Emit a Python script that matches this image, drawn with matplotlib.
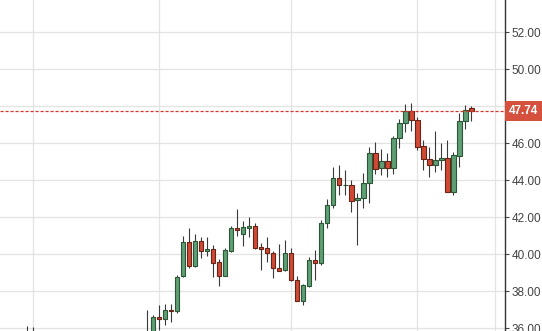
import numpy as np
import matplotlib
matplotlib.use("Agg")
import matplotlib.pyplot as plt
import matplotlib.transforms as mtransforms

plt.rcParams['font.family'] = ['Liberation Sans', 'DejaVu Sans']

# ---- daily candles (first ones sit below the visible window) ----
opens = [35.6, 35.2, 35.5, 35.1, 34.7, 35.0, 34.4, 34.6, 34.3, 33.9,
         34.3, 34.6, 34.2, 34.4, 34.9, 34.5, 34.8, 35.2, 34.9, 35.3,
         35.4, 35.6, 36.59, 36.49, 36.99, 36.91, 38.80, 40.64, 39.39, 40.70,
         40.16, 40.31, 39.58, 38.84, 40.19, 41.41, 41.12, 41.44, 41.53, 40.38,
         40.32, 40.05, 39.24, 39.15, 40.05, 38.61, 37.46, 38.30, 39.69, 39.51,
         41.68, 42.64, 44.11, 43.74, 43.73, 42.91, 43.03, 43.84, 45.46, 44.65,
         45.04, 44.65, 46.27, 47.08, 47.75, 47.24, 45.85, 45.14, 44.80, 45.10,
         45.19, 43.37, 45.31, 47.21, 47.90]
highs = [36.15, 36.05, 35.7, 35.4, 35.2, 35.3, 34.9, 35.1, 34.7, 34.5,
         34.8, 35.0, 34.6, 35.1, 35.3, 35.0, 35.4, 35.6, 35.5, 35.7,
         37.00, 36.72, 37.26, 37.31, 37.29, 38.88, 41.00, 41.41, 41.10, 40.95,
         40.92, 40.50, 39.73, 40.34, 41.53, 42.43, 41.80, 42.03, 41.71, 40.63,
         40.92, 40.18, 40.58, 40.77, 40.32, 38.85, 38.40, 39.87, 40.23, 41.85,
         42.97, 44.74, 44.83, 44.56, 43.99, 43.30, 44.39, 45.82, 46.05, 45.69,
         45.46, 46.37, 47.34, 48.10, 48.18, 47.42, 46.18, 45.80, 46.69, 46.02,
         46.18, 45.55, 47.62, 48.05, 48.02]
lows = [35.0, 34.8, 34.9, 34.5, 34.3, 34.2, 33.9, 34.1, 33.6, 33.5,
        33.9, 34.0, 33.7, 34.1, 34.3, 34.2, 34.5, 34.7, 34.6, 35.0,
        35.2, 35.4, 35.91, 36.18, 36.34, 36.80, 38.75, 39.28, 39.30, 39.80,
        39.90, 38.79, 38.29, 38.80, 40.14, 40.99, 40.45, 40.92, 40.31, 39.15,
        39.58, 38.74, 39.07, 39.10, 38.57, 37.45, 37.26, 38.25, 38.61, 39.42,
        41.41, 42.49, 43.21, 43.20, 42.26, 40.52, 42.49, 42.76, 44.34, 44.27,
        44.19, 44.33, 45.75, 46.63, 46.69, 45.64, 44.58, 44.16, 44.45, 44.56,
        43.35, 43.23, 44.74, 46.77, 47.23]
closes = [35.2, 35.5, 35.1, 34.7, 35.0, 34.4, 34.6, 34.3, 33.9, 34.3,
          34.6, 34.2, 34.4, 34.9, 34.5, 34.8, 35.2, 34.9, 35.3, 35.4,
          35.6, 36.63, 36.49, 36.97, 36.92, 38.76, 40.65, 39.38, 40.70, 40.16,
          40.31, 39.55, 38.84, 40.23, 41.41, 41.31, 41.46, 41.55, 40.36, 40.30,
          40.05, 39.24, 39.11, 40.05, 38.61, 37.48, 38.32, 39.69, 39.51, 41.68,
          42.66, 44.11, 43.73, 43.76, 42.90, 43.03, 43.84, 45.46, 44.61, 45.04,
          44.65, 46.27, 47.08, 47.75, 47.24, 45.82, 45.14, 44.80, 45.10, 45.19,
          43.38, 45.35, 47.21, 47.80, 47.74]

last_price = 47.74
month_starts = [1, 22, 44, 65, 78]
price_ticks = [36, 38, 40, 42, 44, 46, 48, 50, 52, 54]

GREEN, GREEN_EDGE = '#5e9f74', '#2c5638'
RED, RED_EDGE = '#cf4a35', '#6a2417'

fig = plt.figure(figsize=(5.42, 3.31), dpi=100)
# axes run slightly past the figure edges so the 36/54 labels get cut like the original
ax = fig.add_axes([0.0, -0.0477, 504.5 / 542, 1.1178])

x = np.arange(len(opens))
o = np.array(opens); h = np.array(highs); l = np.array(lows); c = np.array(closes)
up = c >= o

ax.vlines(x, l, h, color='#3a3a3a', linewidth=0.8, zorder=2)
ax.bar(x[up], (c - o)[up], bottom=o[up], width=0.72, color=GREEN,
       edgecolor=GREEN_EDGE, linewidth=0.8, zorder=3)
ax.bar(x[~up], (o - c)[~up], bottom=c[~up], width=0.72, color=RED,
       edgecolor=RED_EDGE, linewidth=0.8, zorder=3)

# last price marker line
ax.axhline(last_price, color='#d23b2a', linewidth=0.9, linestyle=(0, (2.5, 1.5)), zorder=4)

ax.set_xlim(-4.5, 79.5)
ax.set_ylim(35, 55)

ax.set_xticks(month_starts)
ax.set_yticks(price_ticks)
ax.set_yticklabels(['%.2f' % t for t in price_ticks])
ax.grid(True, color='#e3e3e3', linewidth=0.9, zorder=0)
ax.set_axisbelow(True)

ax.yaxis.tick_right()
ax.tick_params(axis='y', direction='out', length=3, width=0.8, pad=2,
               colors='#444444', labelsize=8.5)
ax.tick_params(axis='x', length=0, labelbottom=False)
for side in ['top', 'left', 'bottom']:
    ax.spines[side].set_visible(False)
ax.spines['right'].set_color('#333333')
ax.spines['right'].set_linewidth(1.0)

trans = mtransforms.blended_transform_factory(ax.transAxes, ax.transData)
ax.text(1.008, last_price, '47.74', transform=trans, ha='left', va='center',
        color='white', fontsize=8.5, fontweight='bold', zorder=5, clip_on=False,
        bbox=dict(boxstyle='square,pad=0.32', facecolor='#d5503d', edgecolor='none'))

fig.savefig('out.png', dpi=100)
